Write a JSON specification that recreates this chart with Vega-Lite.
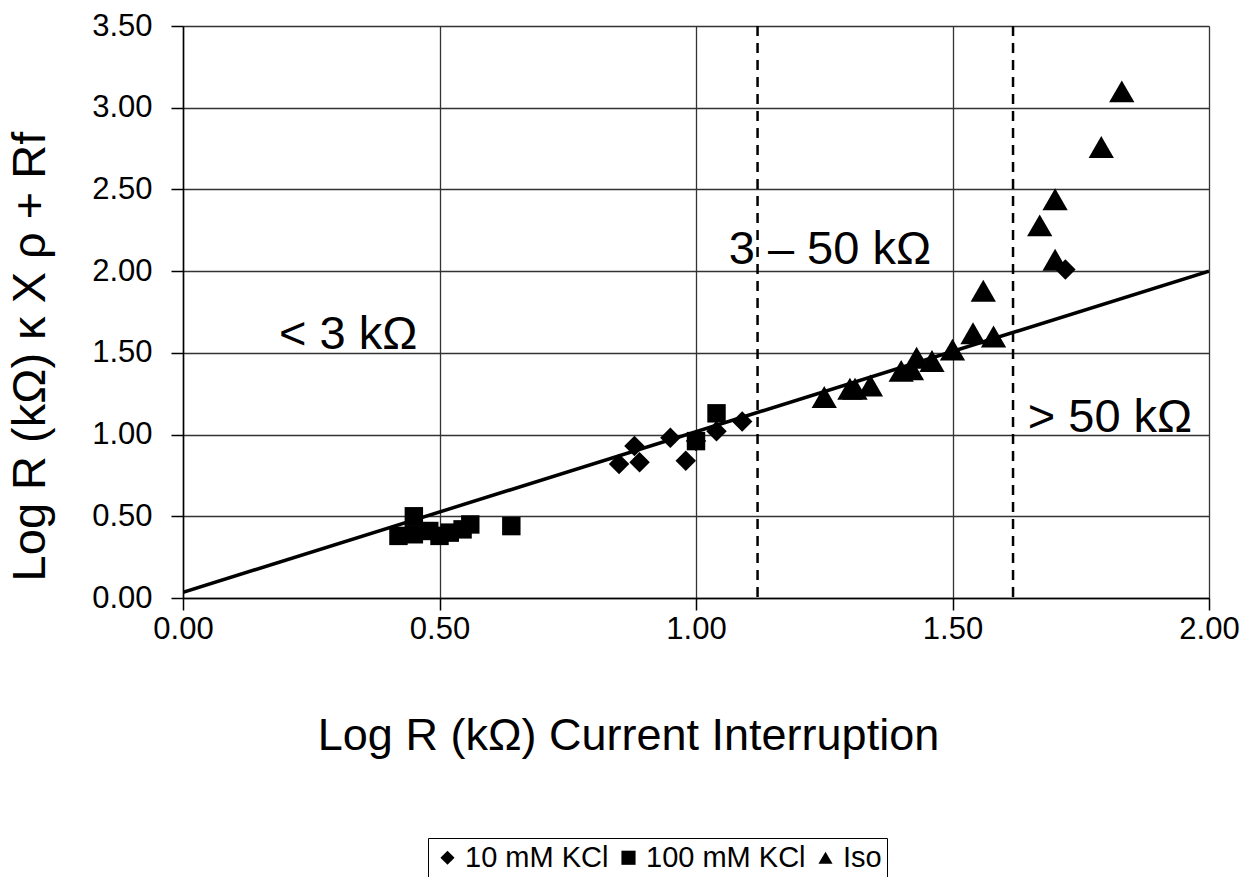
{
  "$schema": "https://vega.github.io/schema/vega-lite/v6.json",
  "width": 1026,
  "height": 572,
  "autosize": {"type": "none"},
  "padding": {"left": 183, "top": 26, "right": 44, "bottom": 279},
  "background": "white",
  "config": {
    "font": "Liberation Sans",
    "view": {"stroke": null},
    "axis": {
      "gridColor": "#333333",
      "gridOpacity": 1,
      "gridWidth": 1.3,
      "domainColor": "black",
      "domainWidth": 1.5,
      "tickColor": "black",
      "tickSize": 12,
      "tickWidth": 1.5,
      "labelFontSize": 31,
      "labelColor": "black",
      "labelFlush": false,
      "titleFontSize": 45,
      "titleFontWeight": "normal",
      "titleColor": "black"
    }
  },
  "datasets": {
    "pts": [
      {"series": "10 mM KCl", "x": 0.85, "y": 0.82},
      {"series": "10 mM KCl", "x": 0.88, "y": 0.93},
      {"series": "10 mM KCl", "x": 0.89, "y": 0.83},
      {"series": "10 mM KCl", "x": 0.95, "y": 0.98},
      {"series": "10 mM KCl", "x": 0.98, "y": 0.84},
      {"series": "10 mM KCl", "x": 1.0, "y": 0.96},
      {"series": "10 mM KCl", "x": 1.04, "y": 1.02},
      {"series": "10 mM KCl", "x": 1.09, "y": 1.08},
      {"series": "10 mM KCl", "x": 1.72, "y": 2.01},
      {"series": "100 mM KCl", "x": 0.42, "y": 0.38},
      {"series": "100 mM KCl", "x": 0.45, "y": 0.39},
      {"series": "100 mM KCl", "x": 0.45, "y": 0.5},
      {"series": "100 mM KCl", "x": 0.48, "y": 0.41},
      {"series": "100 mM KCl", "x": 0.5, "y": 0.38},
      {"series": "100 mM KCl", "x": 0.52, "y": 0.4},
      {"series": "100 mM KCl", "x": 0.545, "y": 0.42},
      {"series": "100 mM KCl", "x": 0.56, "y": 0.45},
      {"series": "100 mM KCl", "x": 0.64, "y": 0.44},
      {"series": "100 mM KCl", "x": 1.0, "y": 0.96},
      {"series": "100 mM KCl", "x": 1.04, "y": 1.13},
      {"series": "Iso", "x": 1.25, "y": 1.23},
      {"series": "Iso", "x": 1.3, "y": 1.28},
      {"series": "Iso", "x": 1.31, "y": 1.28},
      {"series": "Iso", "x": 1.34, "y": 1.3},
      {"series": "Iso", "x": 1.4, "y": 1.39},
      {"series": "Iso", "x": 1.42, "y": 1.4},
      {"series": "Iso", "x": 1.43, "y": 1.47},
      {"series": "Iso", "x": 1.46, "y": 1.45},
      {"series": "Iso", "x": 1.5, "y": 1.52},
      {"series": "Iso", "x": 1.54, "y": 1.62},
      {"series": "Iso", "x": 1.56, "y": 1.88},
      {"series": "Iso", "x": 1.58, "y": 1.6},
      {"series": "Iso", "x": 1.67, "y": 2.28},
      {"series": "Iso", "x": 1.7, "y": 2.07},
      {"series": "Iso", "x": 1.7, "y": 2.44},
      {"series": "Iso", "x": 1.79, "y": 2.76},
      {"series": "Iso", "x": 1.83, "y": 3.1}
    ]
  },
  "encoding": {
    "x": {
      "field": "x",
      "type": "quantitative",
      "scale": {"domain": [0, 2], "nice": false},
      "axis": {
        "values": [0, 0.5, 1, 1.5, 2],
        "format": ".2f",
        "labelPadding": 4,
        "title": "Log R (kΩ) Current Interruption",
        "titleX": 445,
        "titleY": 137,
        "titleBaseline": "middle",
        "titleAlign": "center",
        "titleAnchor": null
      }
    },
    "y": {
      "field": "y",
      "type": "quantitative",
      "scale": {"domain": [0, 3.5], "nice": false},
      "axis": {
        "values": [0, 0.5, 1, 1.5, 2, 2.5, 3, 3.5],
        "format": ".2f",
        "labelPadding": 19,
        "title": "Log R (kΩ) κ X ρ + Rf",
        "titleFontSize": 47,
        "titleX": -153,
        "titleY": 330,
        "titleAngle": 270,
        "titleBaseline": "middle",
        "titleAlign": "center"
      }
    }
  },
  "layer": [
    {
      "data": {"values": [{"x": 1.12}, {"x": 1.618}]},
      "mark": {"type": "rule", "color": "black", "strokeWidth": 2.5, "strokeDash": [10, 7]},
      "encoding": {
        "x": {"field": "x", "type": "quantitative"},
        "y": null
      }
    },
    {
      "data": {"values": [{"x": 0, "y": 0.035}, {"x": 2, "y": 2.0}]},
      "mark": {"type": "line", "color": "black", "strokeWidth": 3.5, "clip": true},
      "encoding": {}
    },
    {
      "data": {"name": "pts"},
      "transform": [{"filter": "datum.series === '10 mM KCl'"}],
      "mark": {"type": "point", "filled": true, "color": "black", "opacity": 1, "size": 420},
      "encoding": {
        "shape": {
          "field": "series",
          "type": "nominal",
          "scale": {"domain": ["10 mM KCl", "100 mM KCl", "Iso"], "range": ["diamond", "square", "triangle-up"]},
          "legend": {
            "title": null,
            "orient": "none",
            "legendX": 245,
            "legendY": 812,
            "direction": "horizontal",
            "labelFontSize": 29,
            "labelColor": "black",
            "symbolSize": 200,
            "symbolFillColor": "black",
            "symbolStrokeColor": "black",
            "symbolStrokeWidth": 0,
            "strokeColor": "black",
            "padding": 5,
            "columnPadding": 5,
            "labelOffset": 3
          }
        }
      }
    },
    {
      "data": {"name": "pts"},
      "transform": [{"filter": "datum.series === '100 mM KCl'"}],
      "mark": {"type": "point", "filled": true, "color": "black", "opacity": 1, "size": 340},
      "encoding": {
        "shape": {"field": "series", "type": "nominal"}
      }
    },
    {
      "data": {"name": "pts"},
      "transform": [{"filter": "datum.series === 'Iso'"}],
      "mark": {"type": "point", "filled": true, "color": "black", "opacity": 1, "size": 640},
      "encoding": {
        "shape": {"field": "series", "type": "nominal"}
      }
    },
    {
      "data": {
        "values": [
          {"label": "< 3 kΩ", "x": 0.322, "y": 1.61},
          {"label": "3 – 50 kΩ", "x": 1.261, "y": 2.13},
          {"label": "> 50 kΩ", "x": 1.807, "y": 1.1}
        ]
      },
      "mark": {"type": "text", "fontSize": 47, "color": "black", "align": "center", "baseline": "middle"},
      "encoding": {
        "text": {"field": "label"}
      }
    }
  ]
}
